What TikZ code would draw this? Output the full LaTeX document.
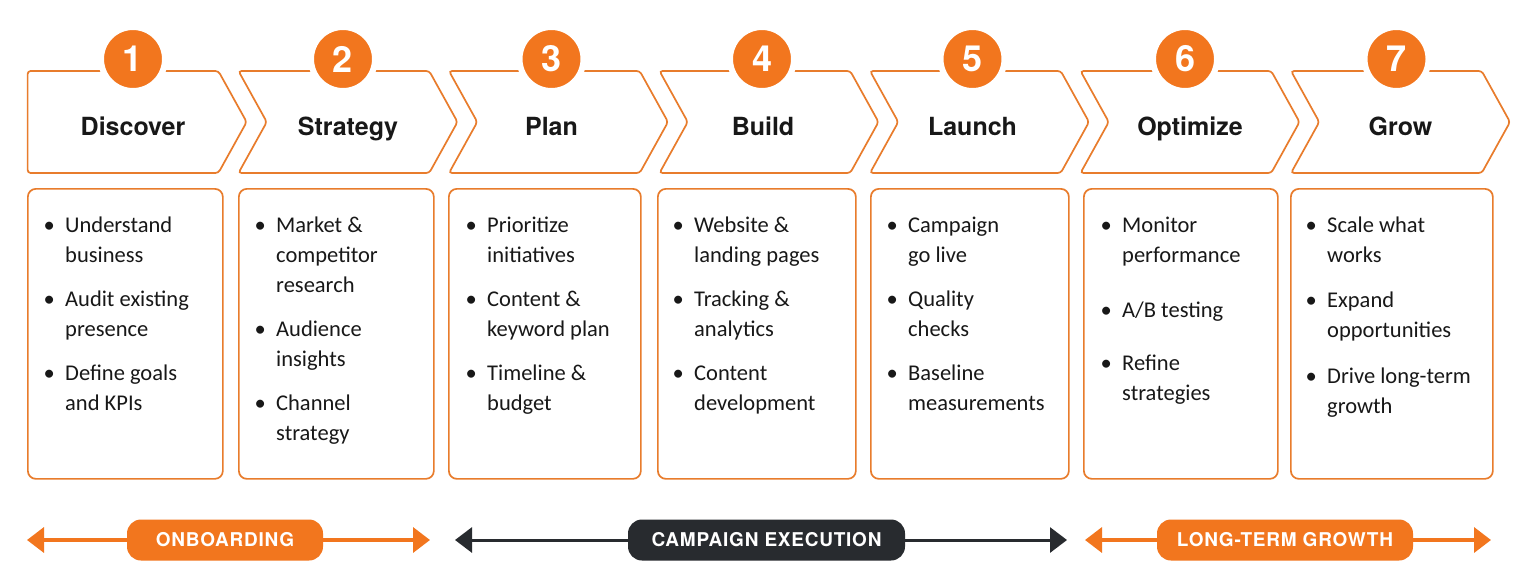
\documentclass[tikz,border=0pt]{standalone}
\usepackage{fontspec}
\setmainfont{Carlito}
\newfontfamily\headfont{TeX Gyre Heros}
\newfontfamily\tagfont{TeX Gyre Heros}[LetterSpace=4]
\usetikzlibrary{arrows.meta, positioning, shapes.symbols}
\definecolor{StepOrange}{RGB}{242,118,30}
\definecolor{EdgeOrange}{RGB}{232,124,44}
\definecolor{InkDark}{RGB}{40,43,47}
\definecolor{TextDark}{RGB}{24,24,24}
\newcommand{\bul}{\makebox[21.5pt][l]{\textbullet}}
\tikzset{
  chev/.style={signal, signal to=east, signal from=#1, signal pointer angle=122,
               draw=EdgeOrange, line width=1.7pt, fill=white, rounded corners=3pt,
               minimum width=219pt, minimum height=102pt, inner sep=0pt, outer sep=0pt,
               text height=26pt, text depth=0pt,
               font=\headfont\bfseries\fontsize{25}{30}\selectfont, text=TextDark},
  num/.style={circle, fill=StepOrange, draw=white, line width=6pt, minimum size=64pt,
              inner sep=0pt, font=\headfont\bfseries\fontsize{36}{36}\selectfont, text=white},
  card/.style={rectangle, rounded corners=8pt, draw=EdgeOrange, line width=1.7pt, fill=white,
               minimum height=290pt, inner sep=0pt, anchor=north west},
  itemlist/.style={anchor=base west, inner sep=0pt, align=left,
                   font=\fontsize{22.5}{30}\selectfont, text=TextDark},
  pill/.style={rectangle, rounded corners=14pt, fill=#1, minimum height=41pt, inner sep=0pt,
               font=\tagfont\bfseries\fontsize{19}{19}\selectfont, text=white},
  phasearr/.style={-{Triangle[length=17pt, width=25pt]}, line width=3.5pt, color=#1},
}
\begin{document}
\begin{tikzpicture}[x=1pt, y=-1pt]
  \useasboundingbox[fill=white] (0,0) rectangle (1536,587);

  % step chevrons
  \node[chev=nowhere] (discover) at (123,122) {\hspace*{20pt}Discover};
  \node[chev=west] (strategy) at (348,122) {Strategy};
  \node[chev=west] (plan)     at (558.5,122) {\hspace*{-14pt}Plan};
  \node[chev=west] (build)    at (769,122) {\hspace*{-12pt}Build};
  \node[chev=west] (launch)   at (979.5,122) {\hspace*{-14pt}Launch};
  \node[chev=west] (optimize) at (1190,122) {Optimize};
  \node[chev=west] (grow)     at (1400.5,122) {Grow};

  % step numbers
  \node[num] (n1) at ([xshift=10pt, yshift=12pt]discover.north) {1};
  \node[num] (n2) at ([xshift=-5pt, yshift=12pt]strategy.north) {2};
  \node[num] (n3) at ([xshift=-7pt, yshift=12pt]plan.north) {3};
  \node[num] (n4) at ([xshift=-7pt, yshift=12pt]build.north) {4};
  \node[num] (n5) at ([xshift=-7pt, yshift=12pt]launch.north) {5};
  \node[num] (n6) at ([xshift=-5pt, yshift=12pt]optimize.north) {6};
  \node[num] (n7) at ([xshift=-4pt, yshift=12pt]grow.north) {7};

  % task cards
  \node[card, minimum width=195pt] (c1) at (27,188) {};
  \node[card, minimum width=195pt] (c2) at (238,188) {};
  \node[card, minimum width=192pt] (c3) at (448,188) {};
  \node[card, minimum width=198pt] (c4) at (657,188) {};
  \node[card, minimum width=198pt] (c5) at (870,188) {};
  \node[card, minimum width=194pt] (c6) at (1083,188) {};
  \node[card, minimum width=202pt] (c7) at (1290,188) {};

  \node[itemlist] (l1) at ([xshift=16.5pt, yshift=-44pt]c1.north west)
       {\begin{tabular}[t]{@{}l@{}l@{}}
        \bul & Understand\\ & business\\[14pt]
        \bul & Audit existing\\ & presence\\[14pt]
        \bul & Define goals\\ & and KPIs
        \end{tabular}};
  \node[itemlist] (l2) at ([xshift=16.5pt, yshift=-44pt]c2.north west)
       {\begin{tabular}[t]{@{}l@{}l@{}}
        \bul & Market \&\\ & competitor\\ & research\\[14pt]
        \bul & Audience\\ & insights\\[14pt]
        \bul & Channel\\ & strategy
        \end{tabular}};
  \node[itemlist] (l3) at ([xshift=17.5pt, yshift=-44pt]c3.north west)
       {\begin{tabular}[t]{@{}l@{}l@{}}
        \bul & Prioritize\\ & initiatives\\[14pt]
        \bul & Content \&\\ & keyword plan\\[14pt]
        \bul & Timeline \&\\ & budget
        \end{tabular}};
  \node[itemlist] (l4) at ([xshift=15.5pt, yshift=-44pt]c4.north west)
       {\begin{tabular}[t]{@{}l@{}l@{}}
        \bul & Website \&\\ & landing pages\\[14pt]
        \bul & Tracking \&\\ & analytics\\[14pt]
        \bul & Content\\ & development
        \end{tabular}};
  \node[itemlist] (l5) at ([xshift=16.5pt, yshift=-44pt]c5.north west)
       {\begin{tabular}[t]{@{}l@{}l@{}}
        \bul & Campaign\\ & go live\\[14pt]
        \bul & Quality\\ & checks\\[14pt]
        \bul & Baseline\\ & measurements
        \end{tabular}};
  \node[itemlist] (l6) at ([xshift=17.5pt, yshift=-44pt]c6.north west)
       {\begin{tabular}[t]{@{}l@{}l@{}}
        \bul & Monitor\\ & performance\\[25pt]
        \bul & A/B testing\\[23pt]
        \bul & Refine\\ & strategies
        \end{tabular}};
  \node[itemlist] (l7) at ([xshift=15.5pt, yshift=-44pt]c7.north west)
       {\begin{tabular}[t]{@{}l@{}l@{}}
        \bul & Scale what\\ & works\\[15pt]
        \bul & Expand\\ & opportunities\\[16pt]
        \bul & Drive long-term\\ & growth
        \end{tabular}};

  % phase bars
  \node[pill=StepOrange, minimum width=196pt] (onb) at (225,540) {ONBOARDING};
  \coordinate (onbL) at (27,540);
  \coordinate (onbR) at (430,540);
  \draw[phasearr=StepOrange] (onb.west) -- (onbL);
  \draw[phasearr=StepOrange] (onb.east) -- (onbR);

  \node[pill=InkDark, minimum width=277pt] (exe) at (766.5,540) {CAMPAIGN EXECUTION};
  \coordinate (exeL) at (455,540);
  \coordinate (exeR) at (1067,540);
  \draw[phasearr=InkDark, line width=3pt] (exe.west) -- (exeL);
  \draw[phasearr=InkDark, line width=3pt] (exe.east) -- (exeR);

  \node[pill=StepOrange, minimum width=256pt] (ltg) at (1285,540) {LONG-TERM GROWTH};
  \coordinate (ltgL) at (1085,540);
  \coordinate (ltgR) at (1491,540);
  \draw[phasearr=StepOrange] (ltg.west) -- (ltgL);
  \draw[phasearr=StepOrange] (ltg.east) -- (ltgR);
\end{tikzpicture}
\end{document}
